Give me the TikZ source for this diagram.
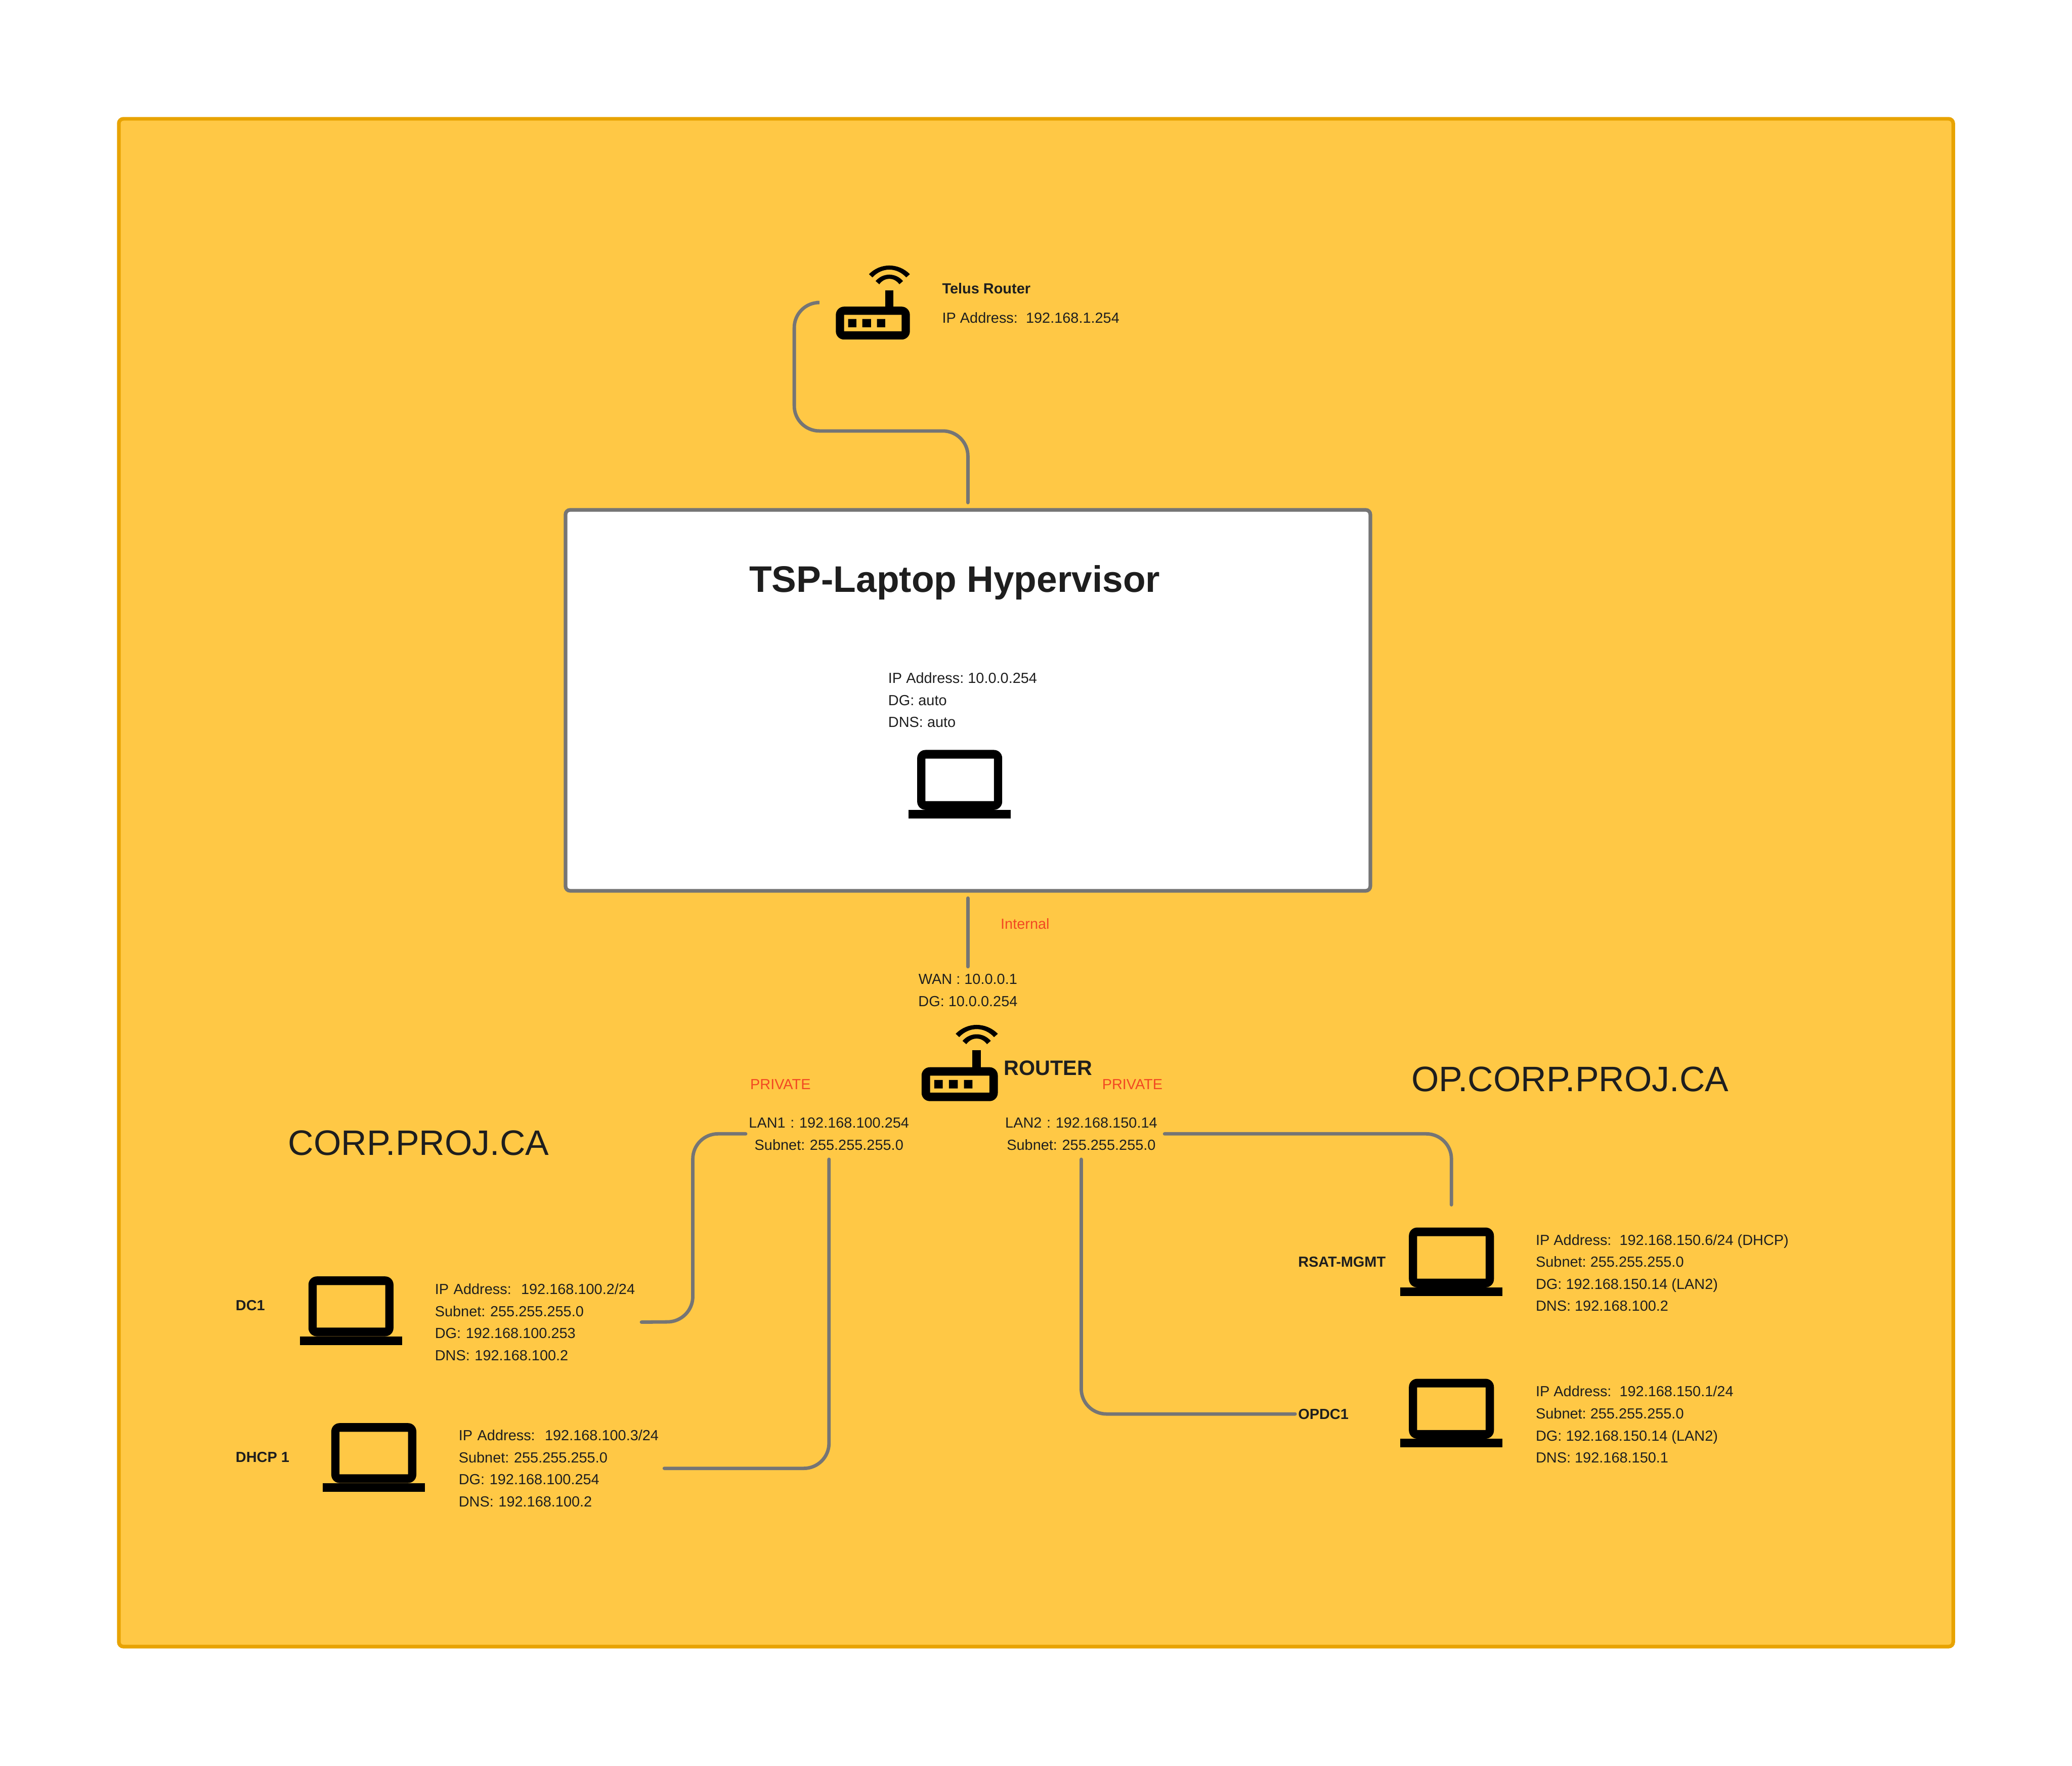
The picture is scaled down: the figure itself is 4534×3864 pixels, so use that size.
\documentclass[tikz,border=0pt]{standalone}
\usepackage{fontspec}
\setmainfont{Liberation Sans}
\usetikzlibrary{positioning}
\frenchspacing

\definecolor{panel}{HTML}{FFC845}
\definecolor{panelline}{HTML}{E8A302}
\definecolor{wirecol}{HTML}{757575}
\definecolor{inkcol}{HTML}{1E1E1E}
\definecolor{redcol}{HTML}{F24822}

\tikzset{
    laptop/.pic = {
        \fill[even odd rule, rounded corners=0.18cm] (-93,-75) rectangle (93,56) [sharp corners] (-75,-56) rectangle (75,37);
        \fill (-112,56) rectangle (112,75);
        \node[inner sep=0, minimum width=2.24cm, minimum height=1.5cm] (-box) at (0,0) {};
    },
    router/.pic = {
        \fill[even odd rule, rounded corners=0.18cm] (-81,9) rectangle (81,81) [sharp corners] (-63,27) rectangle (63,63)
            (-54,36) rectangle (-36,54) (-23,36) rectangle (-4,54) (9,36) rectangle (27,54);
        \fill (27,-27) rectangle (45,9);
        \fill (-8.5,-62) .. controls (16,-87.3) and (56,-87.3) .. (81,-62) -- (73,-55) .. controls (52,-77.7) and (20,-77.7) .. (-1,-55) -- cycle;
        \fill (6,-47) .. controls (22,-65.7) and (50,-65.7) .. (66,-47) -- (58,-40) .. controls (46,-56) and (26,-56) .. (14,-40) -- cycle;
        \node[inner sep=0, minimum size=1.62cm] (-box) at (0,0) {};
    },
}

\begin{document}
\begin{tikzpicture}[
        x=0.01cm, y=-0.01cm,
        wire/.style = {draw=wirecol, line width=0.075cm, line cap=round, rounded corners=0.55cm},
        info/.style = {inner sep=0, text=inkcol, align=left, anchor=west, font=\fontsize{9.1}{13.7}\selectfont},
        tag/.style = {inner sep=0, text=inkcol, anchor=west, font=\fontsize{9.1}{13.7}\bfseries\selectfont},
        note/.style = {inner sep=0, text=redcol, anchor=west, font=\fontsize{9.1}{13.7}\selectfont},
        port/.style = {info, align=center, anchor=center, text width=3.63cm, minimum height=1.1cm},
        zone/.style = {inner sep=0, text=inkcol, anchor=west, font=\fontsize{22}{26}\selectfont},
        ]
        \useasboundingbox (0,0) rectangle (4534,3864);
        \fill[white] (0,0) rectangle (4534,3864);
        \draw[fill=panel, draw=panelline, line width=0.08cm, rounded corners=0.1cm] (260,260) rectangle (4274,3603);

        % hypervisor
        \node[draw=wirecol, fill=white, line width=0.08cm, rounded corners=0.1cm, inner sep=0,
            minimum width=17.6cm, minimum height=8.33cm] (hyper) at (2118,1532.5) {};
        \node[inner sep=0, text=inkcol, anchor=west, font=\fontsize{23}{27}\bfseries\selectfont] (hypertitle) at (1639,1275) {TSP-Laptop Hypervisor};
        \node[info] (hyperinfo) at (1943,1532) {IP Address: 10.0.0.254\\DG: auto\\DNS: auto};
        \pic (hyperpc) at (2100,1716) {laptop};

        % routers
        \pic (telus) at (1910,662) {router};
        \node[tag] (telusname) at (2061,631) {Telus Router};
        \node[info] (telusinfo) at (2061,695) {IP Address:\ \ 192.168.1.254};

        \pic[scale=1.03] (gateway) at (2100,2326) {router};
        \node[inner sep=0, text=inkcol, anchor=west, font=\fontsize{13}{15}\bfseries\selectfont] (gatewayname) at (2196,2337) {ROUTER};
        \node[note] (internal) at (2189,2021) {Internal};
        \node[info, align=center, anchor=center, minimum height=1.02cm] (wan) at (2118,2167) {WAN : 10.0.0.1\\DG: 10.0.0.254};
        \node[note] (privateone) at (1641,2373) {PRIVATE};
        \node[note] (privatetwo) at (2411,2373) {PRIVATE};
        \node[port] (lanone) at (1814,2481) {LAN1 : 192.168.100.254\\Subnet: 255.255.255.0};
        \node[port] (lantwo) at (2366,2481) {LAN2 : 192.168.150.14\\Subnet: 255.255.255.0};

        \node[zone] (corp) at (630,2501) {CORP.PROJ.CA};
        \node[zone] (opcorp) at (3088,2362) {OP.CORP.PROJ.CA};

        % left hosts
        \node[tag] (dcname) at (515,2857) {DC1};
        \pic (dcpc) at (768,2868) {laptop};
        \node[info, text width=4.51cm] (dcinfo) at (951,2893) {IP Address:\ \ 192.168.100.2/24\\Subnet: 255.255.255.0\\DG: 192.168.100.253\\DNS: 192.168.100.2};

        \node[tag] (dhcpname) at (515,3189) {DHCP 1};
        \pic (dhcppc) at (818,3189) {laptop};
        \node[info, text width=4.49cm] (dhcpinfo) at (1003,3213) {IP Address:\ \ 192.168.100.3/24\\Subnet: 255.255.255.0\\DG: 192.168.100.254\\DNS: 192.168.100.2};

        % right hosts
        \node[tag] (rsatname) at (2840,2761) {RSAT-MGMT};
        \pic (rsatpc) at (3176,2761) {laptop};
        \node[info] (rsatinfo) at (3360,2785) {IP Address:\ \ 192.168.150.6/24 (DHCP)\\Subnet: 255.255.255.0\\DG: 192.168.150.14 (LAN2)\\DNS: 192.168.100.2};

        \node[tag] (opdcname) at (2840,3094) {OPDC1};
        \pic (opdcpc) at (3176,3092) {laptop};
        \node[info] (opdcinfo) at (3360,3117) {IP Address:\ \ 192.168.150.1/24\\Subnet: 255.255.255.0\\DG: 192.168.150.14 (LAN2)\\DNS: 192.168.150.1};

        % connectors
        \draw[wire, shorten <=0.41cm, shorten >=0.12cm] (telus-box.west) -- (1738,662) -- (1738,943) -- (2118,943) -- (hyper.north);
        \draw[wire, shorten <=0.12cm] (hyper.south) -- (wan.north);
        \draw[wire] (lanone.west) -- (1516,2481) -- (1516,2892) -- (dcinfo.east);
        \draw[wire] (lanone.south) |- (dhcpinfo.east);
        \draw[wire, shorten >=0.49cm] (lantwo.east) -| (rsatpc-box.north);
        \draw[wire, shorten >=0.06cm] (lantwo.south) |- (opdcname.west);
        \end{tikzpicture}
\end{document}
